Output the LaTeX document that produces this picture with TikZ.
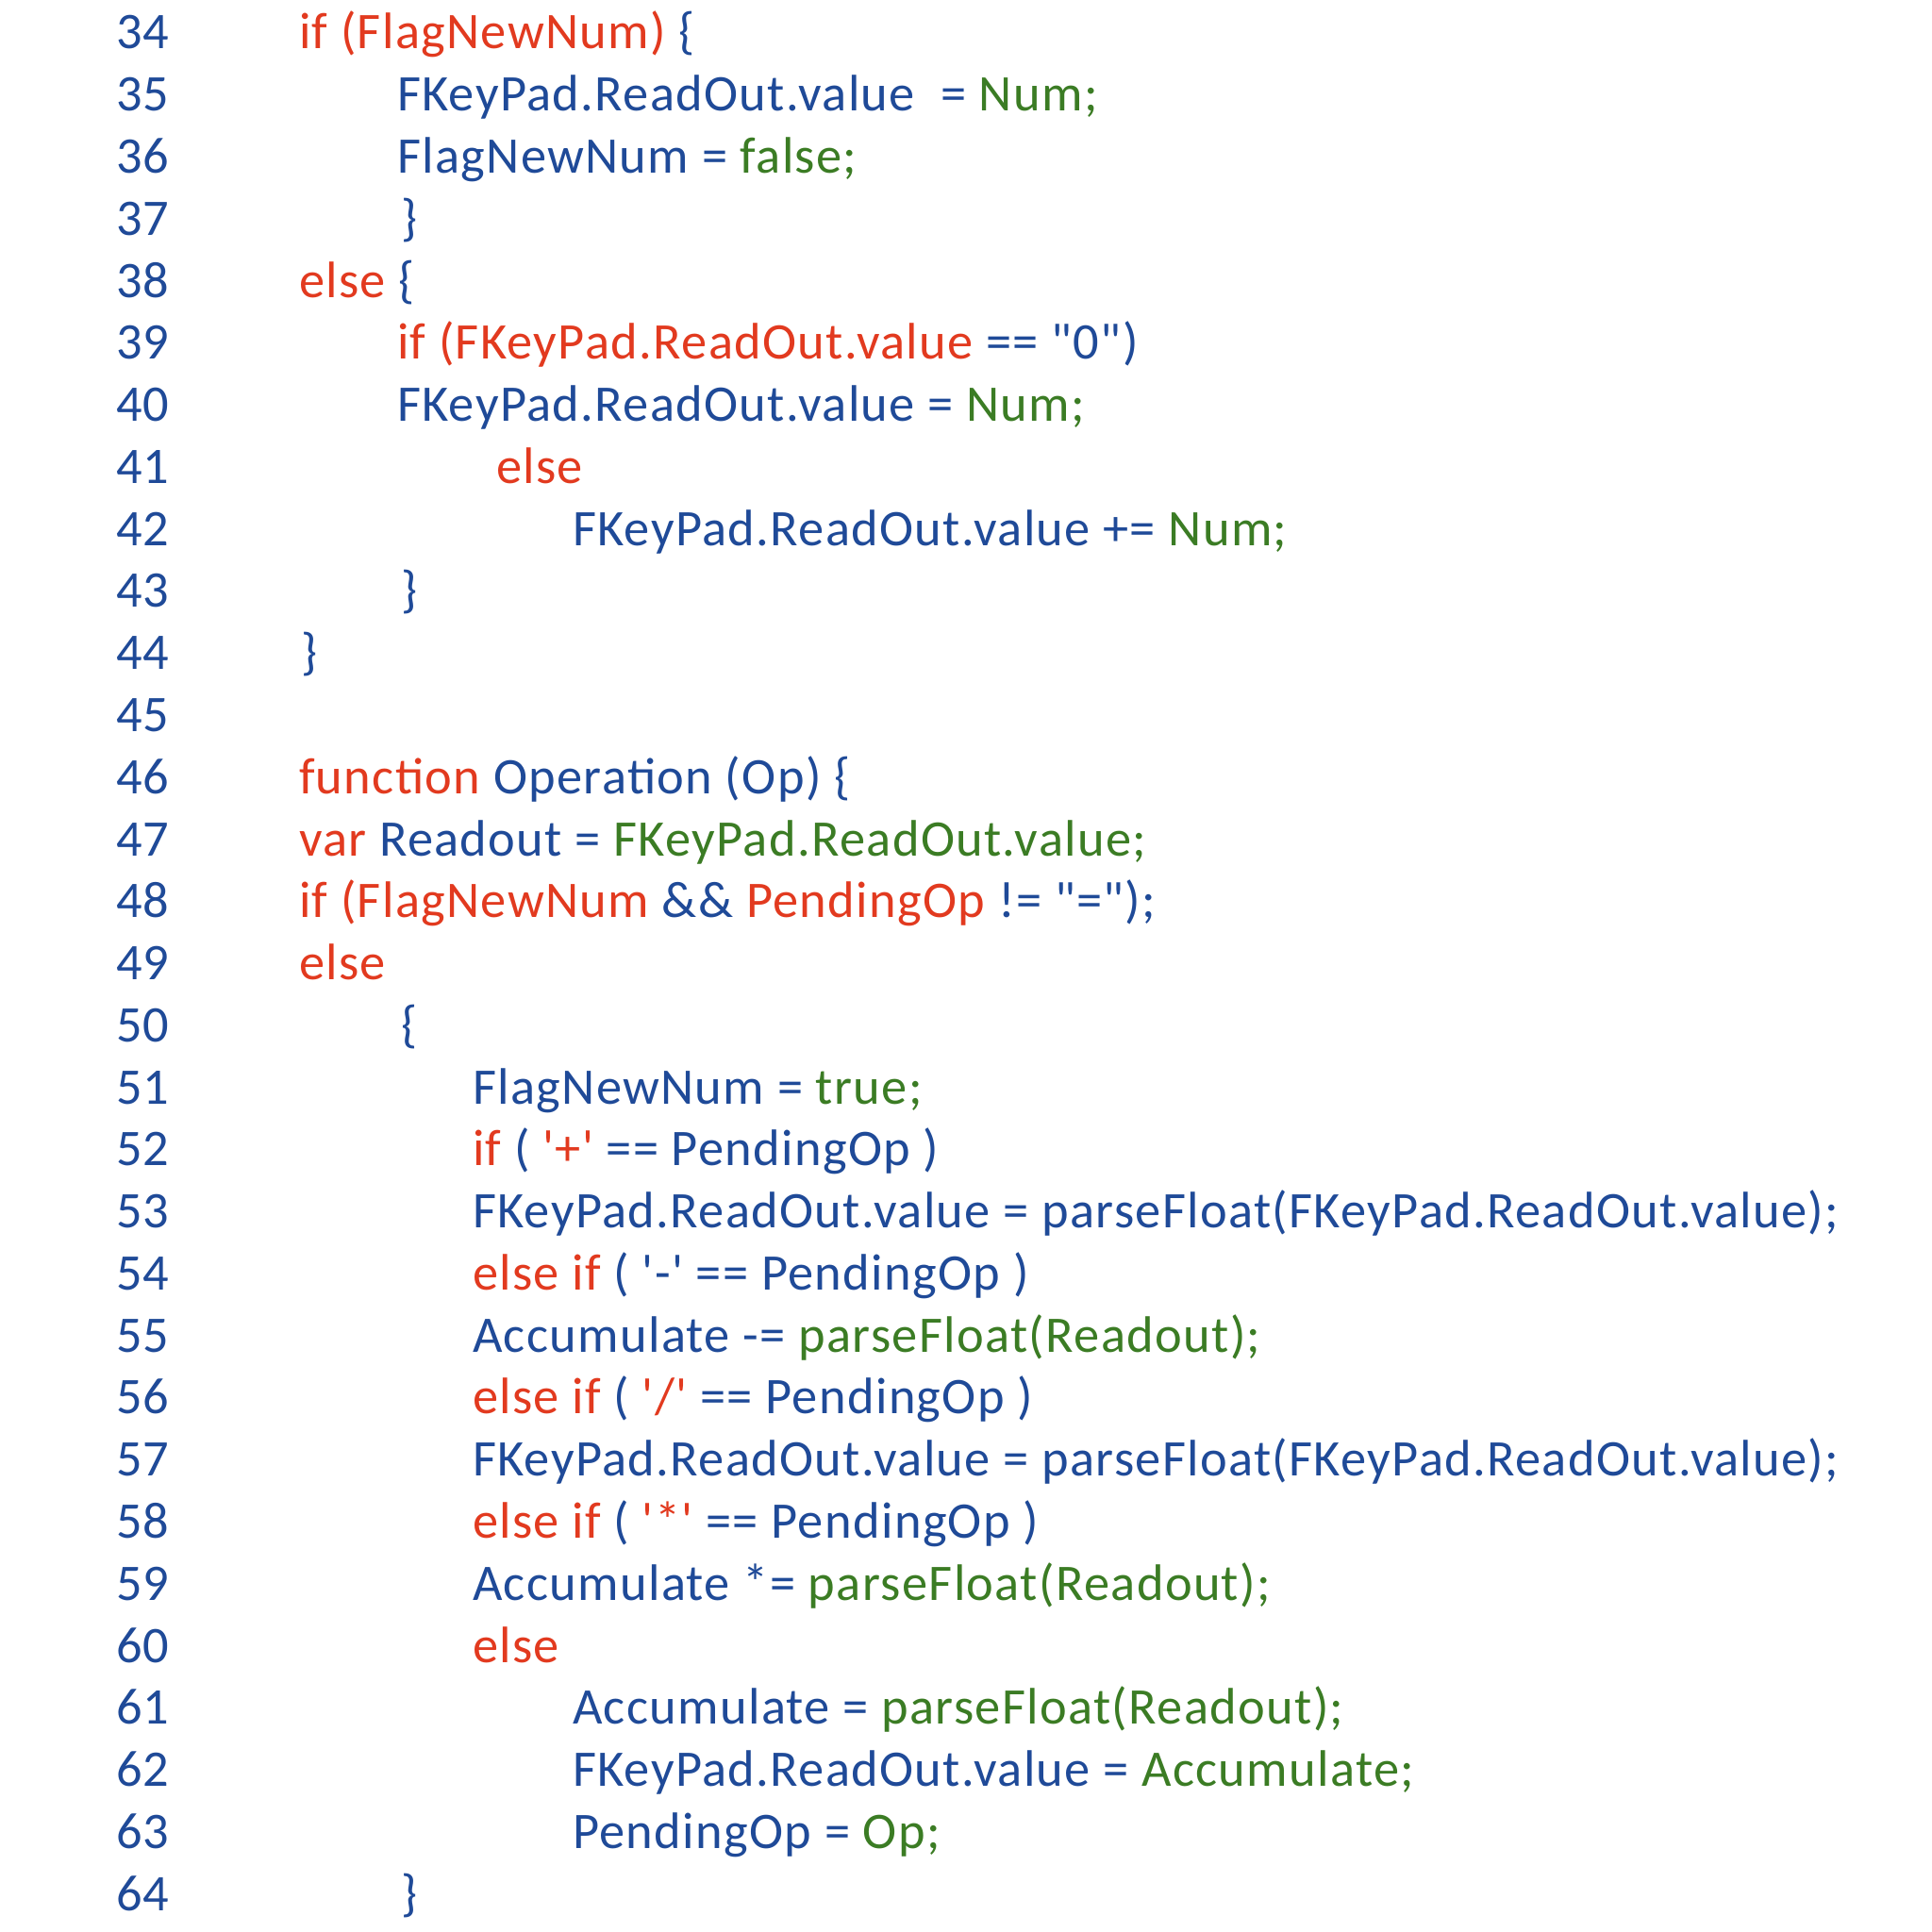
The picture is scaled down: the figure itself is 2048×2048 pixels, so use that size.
\documentclass[tikz,border=0pt]{standalone}
\usepackage{fontspec}
\setmainfont{Carlito}[Ligatures={TeXOff,Common},LetterSpace=2.5]
\definecolor{cb}{HTML}{1F4A98}
\definecolor{cr}{HTML}{E23A1F}
\definecolor{cg}{HTML}{3B7C24}
\newcommand\kR[1]{\textcolor{cr}{#1}}
\newcommand\kG[1]{\textcolor{cg}{#1}}
\newcommand\kB[1]{\textcolor{cb}{#1}}
\tikzset{
  ln/.style={anchor=base west, inner sep=0pt, outer sep=0pt, text=cb, font=\fontsize{27.2pt}{33pt}\selectfont},
  cl/.style={anchor=base west, inner sep=0pt, outer sep=0pt, text=cb, font=\fontsize{27.2pt}{33pt}\selectfont}
}
\begin{document}
\begin{tikzpicture}[x=0.5pt,y=-0.5pt]
\useasboundingbox (0,0) rectangle (2048,2048);
\fill[white] (0,0) rectangle (2048,2048);
\def\LS{65.77}
\foreach \n [count=\i from 0] in {34,...,64}{
  \node[ln] (n\n) at (123,52+\i*\LS) {\n};
}
% level x positions
\def\xa{317}
\def\xb{421}
\def\xc{501}
\def\xd{526}
\def\xe{607}
\node[cl] (l34) at (\xa,52+0*\LS) {\kR{if (FlagNewNum)} \{};
\node[cl] (l35) at (\xb,52+1*\LS) {FKeyPad.ReadOut.value\ \ = \kG{Num;}};
\node[cl] (l36) at (\xb,52+2*\LS) {FlagNewNum = \kG{false;}};
\node[cl] (l37) at (\xb+4,52+3*\LS) {\}};
\node[cl] (l38) at (\xa,52+4*\LS) {\kR{else} \{};
\node[cl] (l39) at (\xb,52+5*\LS) {\kR{if (FKeyPad.ReadOut.value} == "0")};
\node[cl] (l40) at (\xb,52+6*\LS) {FKeyPad.ReadOut.value = \kG{Num;}};
\node[cl] (l41) at (\xd,52+7*\LS) {\kR{else}};
\node[cl] (l42) at (\xe,52+8*\LS) {FKeyPad.ReadOut.value += \kG{Num;}};
\node[cl] (l43) at (\xb+4,52+9*\LS) {\}};
\node[cl] (l44) at (\xa+2,52+10*\LS) {\}};
\node[cl] (l46) at (\xa,52+12*\LS) {\kR{function} Operation (Op) \{};
\node[cl] (l47) at (\xa,52+13*\LS) {\kR{var} Readout = \kG{FKeyPad.ReadOut.value;}};
\node[cl] (l48) at (\xa,52+14*\LS) {\kR{if (FlagNewNum} \&\& \kR{PendingOp} != "=");};
\node[cl] (l49) at (\xa,52+15*\LS) {\kR{else}};
\node[cl] (l50) at (\xb+4,52+16*\LS) {\{};
\node[cl] (l51) at (\xc,52+17*\LS) {FlagNewNum = \kG{true;}};
\node[cl] (l52) at (\xc,52+18*\LS) {\kR{if} ( \kR{'+'} == PendingOp )};
\node[cl] (l53) at (\xc,52+19*\LS) {FKeyPad.ReadOut.value = parseFloat(FKeyPad.ReadOut.value);};
\node[cl] (l54) at (\xc,52+20*\LS) {\kR{else if} ( '-' == PendingOp )};
\node[cl] (l55) at (\xc,52+21*\LS) {Accumulate -= \kG{parseFloat(Readout);}};
\node[cl] (l56) at (\xc,52+22*\LS) {\kR{else if} ( \kR{'/'} == PendingOp )};
\node[cl] (l57) at (\xc,52+23*\LS) {FKeyPad.ReadOut.value = parseFloat(FKeyPad.ReadOut.value);};
\node[cl] (l58) at (\xc,52+24*\LS) {\kR{else if} ( \kR{'*'} == PendingOp )};
\node[cl] (l59) at (\xc,52+25*\LS) {Accumulate *= \kG{parseFloat(Readout);}};
\node[cl] (l60) at (\xc,52+26*\LS) {\kR{else}};
\node[cl] (l61) at (\xe,52+27*\LS) {Accumulate = \kG{parseFloat(Readout);}};
\node[cl] (l62) at (\xe,52+28*\LS) {FKeyPad.ReadOut.value = \kG{Accumulate;}};
\node[cl] (l63) at (\xe,52+29*\LS) {PendingOp = \kG{Op;}};
\node[cl] (l64) at (\xb+4,52+30*\LS) {\}};
\end{tikzpicture}
\end{document}
